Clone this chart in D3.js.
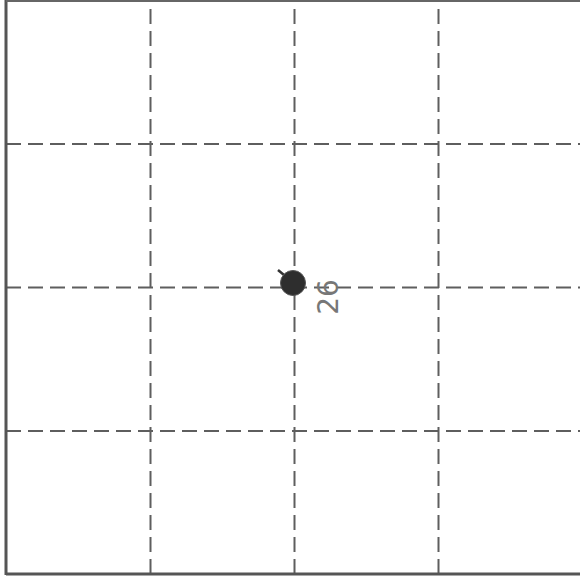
<!DOCTYPE html>
<html>
<head>
<meta charset="utf-8">
<script src="https://cdn.jsdelivr.net/npm/d3@7"></script>
<style>
  html, body { margin: 0; padding: 0; background: #fff; }
  svg { display: block; }
</style>
</head>
<body>
<svg id="chart"></svg>
<script>
// data
const gridTicks = [1, 2, 3];
const pointX = [2];
const pointY = [2];
const pointLabels = ["26"];

const width = 580;
const height = 580;

const svg = d3.select("#chart")
  .attr("width", width)
  .attr("height", height);

const x = d3.scaleLinear().domain([0, 4]).range([6, 582]);
const y = d3.scaleLinear().domain([0, 4]).range([574, 0]);

const gridColor = "#5e5e5e";

// dashed grid
svg.append("g")
  .attr("transform", `translate(0,${y(0)})`)
  .call(d3.axisBottom(x).tickValues(gridTicks).tickSize(-(y(0) - y(4))).tickFormat(""))
  .call(g => g.select(".domain").remove())
  .call(g => g.selectAll(".tick line")
    .attr("stroke", gridColor)
    .attr("stroke-width", 2)
    .attr("stroke-dasharray", "15,7"));

svg.append("g")
  .attr("transform", `translate(${x(0)},0)`)
  .call(d3.axisLeft(y).tickValues(gridTicks).tickSize(-(x(4) - x(0))).tickFormat(""))
  .call(g => g.select(".domain").remove())
  .call(g => g.selectAll(".tick line")
    .attr("stroke", gridColor)
    .attr("stroke-width", 2)
    .attr("stroke-dasharray", "15,7"));

// frame: left, bottom, top
svg.append("line")
  .attr("x1", x(0)).attr("x2", x(0))
  .attr("y1", y(4)).attr("y2", y(0) + 1)
  .attr("stroke", "#555").attr("stroke-width", 3);
svg.append("line")
  .attr("x1", x(0)).attr("x2", x(4))
  .attr("y1", y(0)).attr("y2", y(0))
  .attr("stroke", "#555").attr("stroke-width", 3);
svg.append("line")
  .attr("x1", x(0)).attr("x2", x(4))
  .attr("y1", y(4) + 1).attr("y2", y(4) + 1)
  .attr("stroke", "#666").attr("stroke-width", 2);

// the point
const pts = pointX.map((d, i) => ({ x: d, y: pointY[i], label: pointLabels[i] }));

const pg = svg.selectAll(".pt")
  .data(pts)
  .enter()
  .append("g")
  .attr("class", "pt")
  .attr("transform", d => `translate(${x(d.x) - 1},${y(d.y) - 4})`);

pg.append("line")
  .attr("x1", -9).attr("y1", -8)
  .attr("x2", -15).attr("y2", -13)
  .attr("stroke", "#333").attr("stroke-width", 2.5);

pg.append("circle")
  .attr("r", 12.5)
  .attr("fill", "#2e2e2e")
  .attr("stroke", "#555")
  .attr("stroke-width", 1);

pg.append("text")
  .attr("transform", "translate(45,14) rotate(-90)")
  .attr("text-anchor", "middle")
  .attr("font-family", "DejaVu Sans, sans-serif")
  .attr("font-size", 28)
  .attr("fill", "#777")
  .text(d => d.label);
</script>
</body>
</html>
